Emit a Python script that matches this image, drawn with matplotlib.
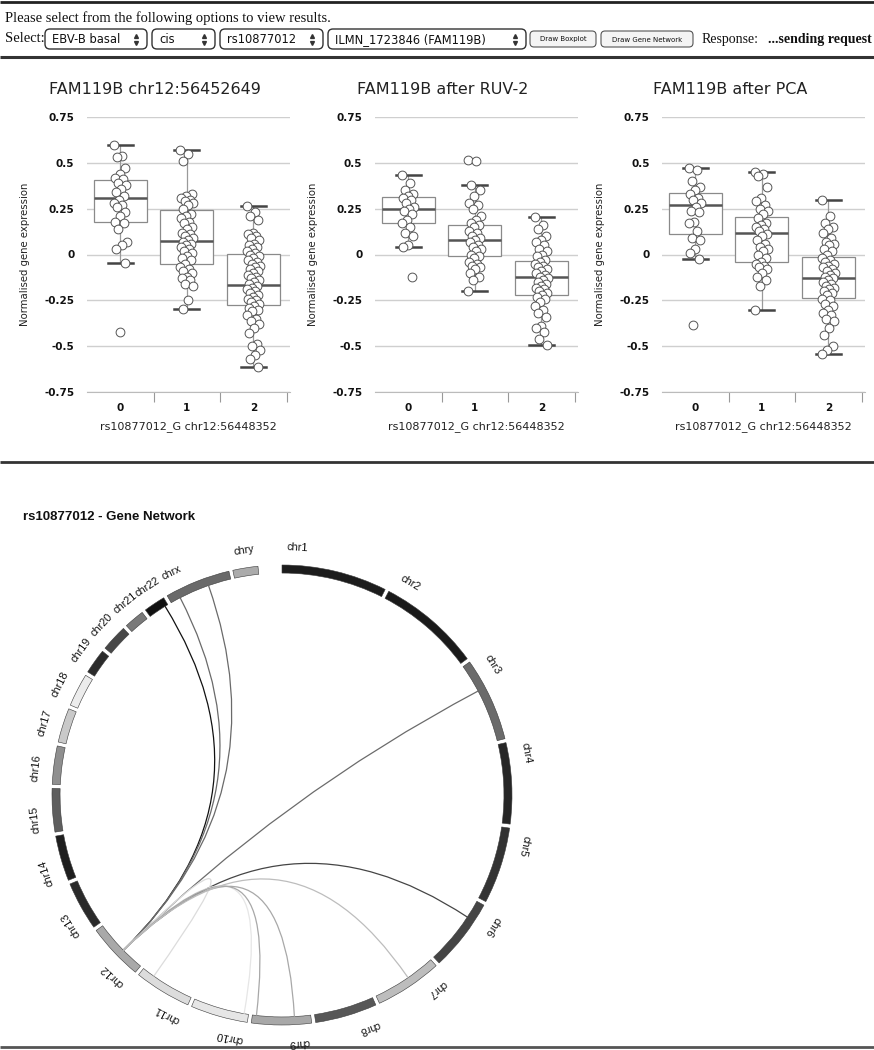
import numpy as np
import matplotlib
matplotlib.use("Agg")
import matplotlib.pyplot as plt
from matplotlib.patches import Wedge, FancyBboxPatch, PathPatch
from matplotlib.path import Path

# ---------------- boxplot data ----------------
genotypes = ["0", "1", "2"]
panel_titles = ["FAM119B chr12:56452649", "FAM119B after RUV-2", "FAM119B after PCA"]
x_label = "rs10877012_G chr12:56448352"
y_label = "Normalised gene expression"
y_ticks = [-0.75, -0.5, -0.25, 0, 0.25, 0.5, 0.75]
y_tick_labels = ["-0.75", "-0.5", "-0.25", "0", "0.25", "0.5", "0.75"]

# [whislo, q1, med, q3, whishi] for genotype 0, 1, 2
raw_stats = [[-0.045, 0.175, 0.31, 0.405, 0.60],
             [-0.295, -0.05, 0.075, 0.245, 0.57],
             [-0.615, -0.275, -0.165, 0.005, 0.265]]
ruv_stats = [[0.04, 0.17, 0.25, 0.315, 0.435],
             [-0.20, -0.01, 0.08, 0.16, 0.38],
             [-0.495, -0.22, -0.125, -0.035, 0.205]]
pca_stats = [[-0.025, 0.11, 0.27, 0.335, 0.47],
             [-0.305, -0.04, 0.12, 0.205, 0.45],
             [-0.545, -0.235, -0.13, -0.015, 0.30]]

raw_g0 = [0.60, 0.54, 0.53, 0.47, 0.44, 0.42, 0.41, 0.39, 0.38, 0.36, 0.34, 0.32, 0.30,
          0.28, 0.27, 0.26, 0.23, 0.21, 0.18, 0.17, 0.14, 0.07, 0.05, 0.03, -0.045, -0.42]
raw_g1 = [0.57, 0.55, 0.51, 0.33, 0.32, 0.31, 0.30, 0.29, 0.28, 0.27, 0.25, 0.22, 0.21, 0.20,
          0.18, 0.17, 0.15, 0.14, 0.12, 0.11, 0.10, 0.09, 0.08, 0.07, 0.06, 0.05, 0.04, 0.03,
          0.02, 0.01, -0.01, -0.02, -0.03, -0.05, -0.07, -0.08, -0.09, -0.10, -0.12, -0.13,
          -0.14, -0.16, -0.17, -0.25, -0.295]
raw_g2 = [0.265, 0.23, 0.21, 0.19, 0.12, 0.11, 0.10, 0.09, 0.08, 0.06, 0.05, 0.04, 0.03, 0.02,
          0.01, 0.0, -0.01, -0.02, -0.03, -0.04, -0.05, -0.06, -0.07, -0.08, -0.09, -0.10,
          -0.11, -0.12, -0.13, -0.14, -0.15, -0.16, -0.17, -0.18, -0.19, -0.20, -0.21, -0.22,
          -0.23, -0.24, -0.25, -0.26, -0.27, -0.28, -0.29, -0.30, -0.31, -0.33, -0.35, -0.36,
          -0.38, -0.40, -0.43, -0.49, -0.50, -0.52, -0.55, -0.57, -0.615]

ruv_g0 = [0.435, 0.39, 0.35, 0.33, 0.32, 0.31, 0.30, 0.28, 0.26, 0.25, 0.24, 0.22, 0.19,
          0.17, 0.15, 0.12, 0.10, 0.05, 0.04, -0.125]
ruv_g1 = [0.515, 0.51, 0.38, 0.35, 0.32, 0.28, 0.27, 0.25, 0.21, 0.19, 0.17, 0.16, 0.15,
          0.13, 0.12, 0.10, 0.09, 0.08, 0.07, 0.05, 0.04, 0.03, 0.02, 0.0, -0.01, -0.02,
          -0.04, -0.05, -0.06, -0.07, -0.08, -0.10, -0.12, -0.14, -0.20]
ruv_g2 = [0.205, 0.16, 0.14, 0.10, 0.08, 0.07, 0.05, 0.03, 0.02, 0.0, -0.01, -0.03, -0.04,
          -0.05, -0.06, -0.07, -0.08, -0.09, -0.10, -0.11, -0.12, -0.13, -0.14, -0.15, -0.16,
          -0.17, -0.18, -0.19, -0.20, -0.21, -0.22, -0.23, -0.24, -0.26, -0.28, -0.30, -0.32,
          -0.34, -0.39, -0.40, -0.42, -0.46, -0.495]

pca_g0 = [0.47, 0.46, 0.40, 0.37, 0.35, 0.33, 0.31, 0.30, 0.28, 0.26, 0.24, 0.23, 0.18,
          0.17, 0.13, 0.09, 0.08, 0.03, 0.01, -0.025, -0.385]
pca_g1 = [0.45, 0.44, 0.43, 0.37, 0.31, 0.29, 0.27, 0.25, 0.24, 0.22, 0.20, 0.17, 0.16,
          0.15, 0.14, 0.13, 0.11, 0.10, 0.08, 0.06, 0.04, 0.03, 0.02, 0.0, -0.02, -0.04,
          -0.05, -0.06, -0.07, -0.08, -0.10, -0.12, -0.14, -0.17, -0.305]
pca_g2 = [0.30, 0.21, 0.17, 0.15, 0.14, 0.12, 0.09, 0.07, 0.06, 0.05, 0.03, 0.02, 0.0,
          -0.02, -0.03, -0.04, -0.05, -0.06, -0.07, -0.08, -0.09, -0.10, -0.11, -0.12, -0.13,
          -0.14, -0.15, -0.16, -0.17, -0.18, -0.19, -0.20, -0.21, -0.22, -0.24, -0.25, -0.27,
          -0.28, -0.30, -0.32, -0.33, -0.35, -0.36, -0.40, -0.44, -0.50, -0.52, -0.545]

# ---------------- gene network data ----------------
chrom_names = ["chr1", "chr2", "chr3", "chr4", "chr5", "chr6", "chr7", "chr8", "chr9",
               "chr10", "chr11", "chr12", "chr13", "chr14", "chr15", "chr16", "chr17",
               "chr18", "chr19", "chr20", "chr21", "chr22", "chrx", "chry"]
chrom_mb = [249.3, 243.2, 198.0, 191.2, 180.9, 171.1, 159.1, 146.4, 141.2, 135.5, 135.0,
            133.9, 115.2, 107.3, 102.5, 90.4, 81.2, 78.1, 59.1, 63.0, 48.1, 51.3, 155.3, 59.4]
chrom_grays = ["#1c1c1c", "#1a1a1a", "#6b6b6b", "#262626", "#333333", "#454545", "#bdbdbd",
               "#575757", "#a8a8a8", "#e6e6e6", "#dcdcdc", "#a9a9a9", "#2a2a2a", "#1e1e1e",
               "#5e5e5e", "#8f8f8f", "#c9c9c9", "#ececec", "#2b2b2b", "#474747", "#7a7a7a",
               "#111111", "#6a6a6a", "#ababab"]

snp_chrom = "chr12"
snp_mb = 56.4
link_targets = ["chr22", "chrx", "chrx", "chr3", "chr6", "chr11", "chr10", "chr9", "chr9", "chr7"]
link_target_mb = [43.6, 24.8, 99.4, 69.3, 44.5, 104.0, 10.8, 131.3, 39.5, 70.0]

FONT = "DejaVu Sans"
SERIF = "Liberation Serif"

fig = plt.figure(figsize=(8.74, 10.5), dpi=100)

# page chrome in pixel coordinates
ui = fig.add_axes([0, 0, 1, 1])
ui.set_xlim(0, 874)
ui.set_ylim(1050, 0)
ui.axis("off")

for yy, col, lw in [(1.5, "#222222", 2.0), (57, "#333333", 2.2), (462, "#333333", 2.0), (1047, "#555555", 2.0)]:
    ui.plot([0, 874], [yy, yy], color=col, lw=lw, solid_capstyle="butt")

ui.text(5, 18, "Please select from the following options to view results.",
        family=SERIF, fontsize=10.5, va="center", color="#111")
ui.text(5, 39, "Select:", family=SERIF, fontsize=10.5, va="center", color="#111")


def select_box(x0, x1, label):
    ui.add_patch(FancyBboxPatch((x0, 29), x1 - x0, 20, boxstyle="round,pad=0,rounding_size=5",
                                fc="white", ec="#333333", lw=1))
    ui.text(x0 + 7, 39.5, label, family=FONT, fontsize=8.3, va="center", ha="left", color="#111")
    ui.plot([x1 - 11], [36], marker="^", ms=2.8, color="#333333")
    ui.plot([x1 - 11], [42.5], marker="v", ms=2.8, color="#333333")


def button(x0, x1, label):
    ui.add_patch(FancyBboxPatch((x0, 31), x1 - x0, 16, boxstyle="round,pad=0,rounding_size=4",
                                fc="#f4f4f4", ec="#555555", lw=0.8))
    ui.text((x0 + x1) / 2, 39.5, label, family=FONT, fontsize=5, va="center", ha="center", color="#111")


select_box(45, 147, "EBV-B basal")
select_box(152, 215, "cis")
select_box(220, 323, "rs10877012")
select_box(328, 526, "ILMN_1723846 (FAM119B)")
button(530, 596, "Draw Boxplot")
button(601, 693, "Draw Gene Network")
ui.text(702, 39, "Response:", family=SERIF, fontsize=10, va="center", color="#111")
ui.text(872, 39, "...sending request", family=SERIF, fontsize=10, ha="right",
        fontweight="bold", va="center", color="#111")

# ---------------- boxplot panels ----------------
panels = [
    (panel_titles[0], raw_stats, [raw_g0, raw_g1, raw_g2], 87),
    (panel_titles[1], ruv_stats, [ruv_g0, ruv_g1, ruv_g2], 375),
    (panel_titles[2], pca_stats, [pca_g0, pca_g1, pca_g2], 662),
]

for title, stats, groups, left_px in panels:
    ax = fig.add_axes([left_px / 874, 1 - 392 / 1050, 203 / 874, 275 / 1050])
    bstats = []
    for s in stats:
        bstats.append(dict(whislo=s[0], q1=s[1], med=s[2], q3=s[3], whishi=s[4], fliers=[]))
    ax.bxp(bstats, positions=[0, 1, 2], widths=0.8, capwidths=0.38, showfliers=False,
           patch_artist=True,
           boxprops=dict(facecolor="white", edgecolor="#8a8a8a", lw=0.9),
           medianprops=dict(color="#555555", lw=1.8),
           whiskerprops=dict(color="#9a9a9a", lw=0.9),
           capprops=dict(color="#444444", lw=1.8))
    for gi, vals in enumerate(groups):
        n = len(vals)
        jitter = ((np.arange(n) * 0.6180339) % 1 - 0.5) * 0.2
        ax.scatter(gi + jitter, vals, s=40, facecolor="white", edgecolor="#555555",
                   lw=0.7, zorder=4)

    ax.set_xlim(-0.5, 2.55)
    ax.set_ylim(-0.75, 0.75)
    ax.set_yticks(y_ticks)
    ax.set_yticklabels(y_tick_labels)
    ax.yaxis.grid(True, color="#cfcfcf", lw=1)
    ax.set_axisbelow(True)
    for sp in ["left", "top", "right"]:
        ax.spines[sp].set_visible(False)
    ax.spines["bottom"].set_color("#bbbbbb")
    ax.set_xticks([0, 1, 2])
    ax.set_xticklabels(genotypes)
    ax.set_xticks([0.5, 1.5, 2.5], minor=True)
    ax.tick_params(axis="x", which="major", length=0, pad=8, labelsize=7.5)
    ax.tick_params(axis="x", which="minor", length=7, color="#999999", width=0.8)
    ax.tick_params(axis="y", length=0, pad=9, labelsize=7.5)
    for lab in ax.get_xticklabels() + ax.get_yticklabels():
        lab.set_fontweight("semibold")
        lab.set_family(FONT)
        lab.set_color("#111")
    ax.set_xlabel(x_label, fontsize=8, family=FONT, color="#222", labelpad=6)
    ax.set_ylabel(y_label, fontsize=7.3, family=FONT, color="#222", labelpad=10)
    fig.text((left_px + 101 - 33) / 874, 1 - 90 / 1050, title, fontsize=11.5, family=FONT,
             ha="center", va="center", color="#222")

# ---------------- gene network ----------------
fig.text(23 / 874, 1 - 517 / 1050, "rs10877012 - Gene Network", family="Liberation Sans",
         fontsize=9.5, fontweight="bold", va="center", color="#111")

R_OUT = 1.0
R_IN = 0.965
half = 250 / 230
cx_px, cy_px = 282, 795
net = fig.add_axes([(cx_px - 250) / 874, 1 - (cy_px + 250) / 1050, 500 / 874, 500 / 1050])
net.set_xlim(-half, half)
net.set_ylim(-half, half)
net.axis("off")

pad = 1.0
deg_per_mb = (354 - pad * (len(chrom_mb) - 1)) / sum(chrom_mb)
starts = {}
a = 0.0
for name, mb, col in zip(chrom_names, chrom_mb, chrom_grays):
    starts[name] = a
    end = a + mb * deg_per_mb
    net.add_patch(Wedge((0, 0), R_OUT, 90 - end, 90 - a, width=R_OUT - R_IN,
                        facecolor=col, edgecolor="#3a3a3a", lw=0.4))
    la = a + 3.5
    rad = np.deg2rad(la)
    net.text(1.078 * np.sin(rad), 1.078 * np.cos(rad), name, rotation=-la,
             rotation_mode="anchor", ha="center", va="center", family="Liberation Sans",
             fontsize=7.8, color="#111", clip_on=False)
    a = end + pad


def chrom_point(name, mb):
    ang = np.deg2rad(starts[name] + mb * deg_per_mb)
    return R_IN * np.sin(ang), R_IN * np.cos(ang)


color_of = dict(zip(chrom_names, chrom_grays))
p0 = chrom_point(snp_chrom, snp_mb)
for tgt, mb in zip(link_targets, link_target_mb):
    p2 = chrom_point(tgt, mb)
    path = Path([p0, (0, 0), p2], [Path.MOVETO, Path.CURVE3, Path.CURVE3])
    net.add_patch(PathPatch(path, facecolor="none", edgecolor=color_of[tgt], lw=0.9))

fig.savefig("out.png", dpi=100)
